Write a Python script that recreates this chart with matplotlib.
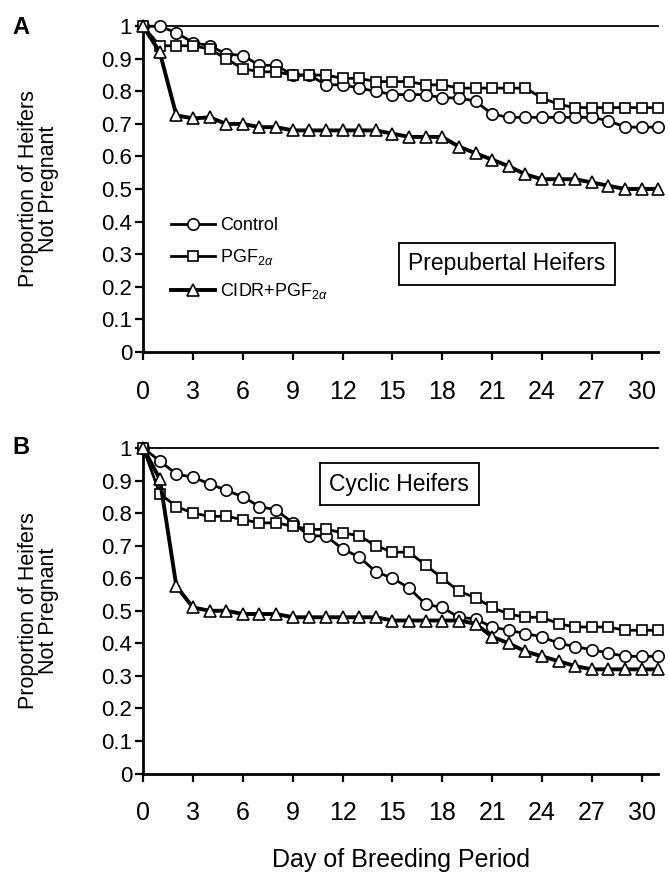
import matplotlib
matplotlib.use("Agg")
import matplotlib.pyplot as plt

plt.rcParams["font.family"] = ["Liberation Sans", "DejaVu Sans"]
plt.rcParams["mathtext.fontset"] = "custom"
plt.rcParams["mathtext.rm"] = "Liberation Sans"
plt.rcParams["mathtext.it"] = "Liberation Sans:italic"

days = list(range(32))

# Panel A - prepubertal heifers
control_a = [1.00, 1.00, 0.98, 0.95, 0.94, 0.915, 0.91, 0.88, 0.88, 0.85,
             0.85, 0.82, 0.82, 0.81, 0.80, 0.79, 0.79, 0.79, 0.78, 0.78,
             0.77, 0.73, 0.72, 0.72, 0.72, 0.72, 0.72, 0.72, 0.71, 0.69,
             0.69, 0.69]
pgf_a = [1.00, 0.94, 0.94, 0.94, 0.93, 0.90, 0.87, 0.86, 0.86, 0.85,
         0.85, 0.85, 0.84, 0.84, 0.83, 0.83, 0.83, 0.82, 0.82, 0.81,
         0.81, 0.81, 0.81, 0.81, 0.78, 0.76, 0.75, 0.75, 0.75, 0.75,
         0.75, 0.75]
cidr_a = [1.00, 0.92, 0.726, 0.717, 0.72, 0.70, 0.70, 0.69, 0.69, 0.68,
          0.68, 0.68, 0.68, 0.68, 0.68, 0.67, 0.66, 0.66, 0.66, 0.63,
          0.61, 0.59, 0.57, 0.545, 0.53, 0.53, 0.53, 0.52, 0.51, 0.50,
          0.50, 0.50]

# Panel B - cyclic heifers
control_b = [1.00, 0.96, 0.92, 0.91, 0.89, 0.87, 0.85, 0.82, 0.81, 0.77,
             0.73, 0.73, 0.69, 0.665, 0.62, 0.60, 0.57, 0.52, 0.51, 0.48,
             0.475, 0.45, 0.44, 0.43, 0.42, 0.40, 0.39, 0.38, 0.37, 0.36,
             0.36, 0.36]
pgf_b = [1.00, 0.86, 0.82, 0.80, 0.79, 0.79, 0.78, 0.77, 0.77, 0.76,
         0.75, 0.75, 0.74, 0.73, 0.70, 0.68, 0.68, 0.64, 0.60, 0.56,
         0.54, 0.51, 0.49, 0.48, 0.48, 0.46, 0.45, 0.45, 0.45, 0.44,
         0.44, 0.44]
cidr_b = [1.00, 0.905, 0.575, 0.51, 0.50, 0.50, 0.49, 0.49, 0.49, 0.48,
          0.48, 0.48, 0.48, 0.48, 0.48, 0.47, 0.47, 0.47, 0.47, 0.47,
          0.46, 0.42, 0.40, 0.375, 0.36, 0.345, 0.33, 0.32, 0.32, 0.32,
          0.32, 0.32]

labels = ["Control", r"PGF$_{2\alpha}$", r"CIDR+PGF$_{2\alpha}$"]
markers = ["o", "s", "^"]
marker_sz = [8.2, 7.6, 8.4]
line_w = [2.0, 2.0, 2.8]
x_ticks = list(range(0, 31, 3))
y_ticks = [0, 0.1, 0.2, 0.3, 0.4, 0.5, 0.6, 0.7, 0.8, 0.9, 1]
y_ticklabels = ["0", "0.1", "0.2", "0.3", "0.4", "0.5", "0.6", "0.7", "0.8", "0.9", "1"]

fig = plt.figure(figsize=(6.69, 8.75), dpi=100)
ax_a = fig.add_axes([0.214, 0.598, 0.770, 0.372])
ax_b = fig.add_axes([0.214, 0.116, 0.770, 0.372])


def draw_panel(ax, series, box_text, box_xy):
    for vals, m, ms, lw, lab in zip(series, markers, marker_sz, line_w, labels):
        ax.plot(days, vals, color="black", lw=lw, marker=m, markersize=ms,
                markerfacecolor="white", markeredgecolor="black",
                markeredgewidth=1.2, label=lab, clip_on=False, zorder=3)
    ax.set_xlim(0, 31)
    ax.set_ylim(0, 1)
    ax.set_xticks(x_ticks)
    ax.set_yticks(y_ticks)
    ax.set_yticklabels(y_ticklabels)
    ax.tick_params(axis="x", direction="out", length=6, width=1.6,
                   labelsize=18, pad=14)
    ax.tick_params(axis="y", direction="out", length=6, width=1.6,
                   labelsize=16, pad=2)
    ax.spines["right"].set_visible(False)
    ax.spines["top"].set_linewidth(1.3)
    ax.spines["left"].set_linewidth(2.0)
    ax.spines["bottom"].set_linewidth(2.0)
    ax.set_ylabel("Proportion of Heifers\nNot Pregnant", fontsize=15.5,
                  linespacing=0.95)
    ax.yaxis.set_label_coords(-0.163, 0.5)
    ax.text(box_xy[0], box_xy[1], box_text, fontsize=16.5, ha="center",
            va="center",
            bbox=dict(boxstyle="square,pad=0.42", facecolor="white",
                      edgecolor="black", linewidth=1.3))


draw_panel(ax_a, [control_a, pgf_a, cidr_a], "Prepubertal Heifers", (21.9, 0.27))
draw_panel(ax_b, [control_b, pgf_b, cidr_b], "Cyclic Heifers", (15.4, 0.889))

ax_a.legend(loc="center left", bbox_to_anchor=(0.055, 0.285), frameon=False,
            fontsize=13, handlelength=2.4, handletextpad=0.3,
            labelspacing=0.75, borderpad=0, borderaxespad=0)

fig.text(0.018, 0.969, "A", fontsize=17, fontweight="bold", va="center")
fig.text(0.018, 0.489, "B", fontsize=17, fontweight="bold", va="center")
fig.text(0.599, 0.017, "Day of Breeding Period", fontsize=18, ha="center",
         va="center")

fig.savefig("out.png", dpi=100)
